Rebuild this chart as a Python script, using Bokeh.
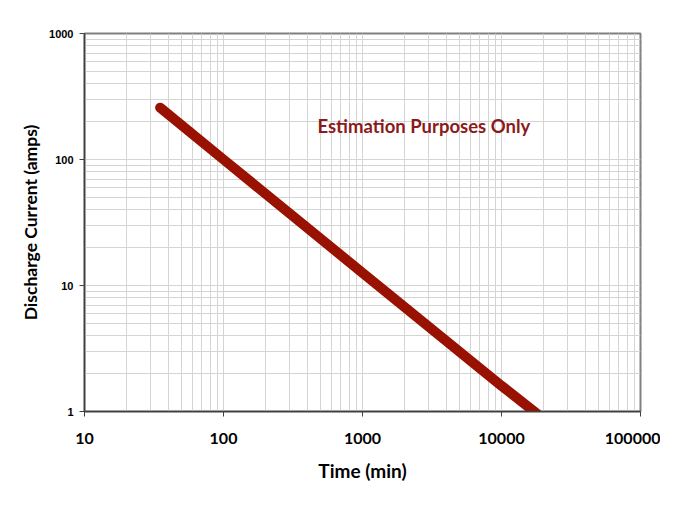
from bokeh.plotting import figure
from bokeh.models import FixedTicker, PrintfTickFormatter, Label
from bokeh.embed import file_html
from bokeh.resources import INLINE

# Data
time_min = [35, 100, 1000, 10000, 18000]
current_amps = [258, 100, 12.6, 1.6, 0.96]

x_major = [10, 100, 1000, 10000, 100000]
y_major = [1, 10, 100, 1000]
x_minor = [m * d for d in [10, 100, 1000, 10000] for m in range(2, 10)]
y_minor = [m * d for d in [1, 10, 100] for m in range(2, 10)]

annotation = "Estimation Purposes Only"

p = figure(width=660, height=508, x_axis_type="log", y_axis_type="log",
           x_range=(10, 100000), y_range=(1, 1000),
           output_backend="svg", toolbar_location=None,
           min_border_left=84, min_border_top=33,
           min_border_right=20, min_border_bottom=97)
p.frame_width = 556
p.frame_height = 378

p.background_fill_color = "white"
p.border_fill_color = "white"
p.outline_line_color = "#808080"
p.outline_line_width = 2

p.xaxis.ticker = FixedTicker(ticks=x_major, minor_ticks=x_minor)
p.yaxis.ticker = FixedTicker(ticks=y_major, minor_ticks=y_minor)
p.xaxis.formatter = PrintfTickFormatter(format="%d")
p.yaxis.formatter = PrintfTickFormatter(format="%d")

grid_color = "#d4d4d4"
for g in (p.xgrid, p.ygrid):
    g.grid_line_color = grid_color
    g.grid_line_width = 1
    g.minor_grid_line_color = grid_color
    g.minor_grid_line_width = 1

for ax in (p.xaxis, p.yaxis):
    ax.axis_line_color = "#404040"
    ax.axis_line_width = 1.5
    ax.major_tick_line_color = "#404040"
    ax.major_tick_in = 0
    ax.major_tick_out = 5
    ax.minor_tick_line_color = None
    ax.major_label_text_font_style = "bold"
    ax.major_label_text_color = "black"
    ax.axis_label_text_font = "Lato"
    ax.axis_label_text_font_style = "bold"
    ax.axis_label_text_color = "black"

p.xaxis.major_label_text_font = "Lato"
p.xaxis.major_label_text_font_size = "16px"
p.xaxis.major_label_standoff = 16
p.yaxis.major_label_text_font = "Liberation Sans"
p.yaxis.major_label_text_font_size = "11px"
p.yaxis.major_label_standoff = 6

p.xaxis.axis_label = "Time (min)"
p.yaxis.axis_label = "Discharge Current (amps)"
p.xaxis.axis_label_text_font_size = "19px"
p.yaxis.axis_label_text_font_size = "17.5px"
p.xaxis.axis_label_standoff = 12
p.yaxis.axis_label_standoff = 5

p.line(time_min, current_amps, line_color="#991100", line_width=10,
       line_cap="round")

p.add_layout(Label(x=474, y=186, text=annotation, text_color="#8c1a1a",
                   text_font="Lato", text_font_style="bold",
                   text_font_size="18.5px", text_baseline="middle"))

open("out.html", "w").write(file_html(p, INLINE))
